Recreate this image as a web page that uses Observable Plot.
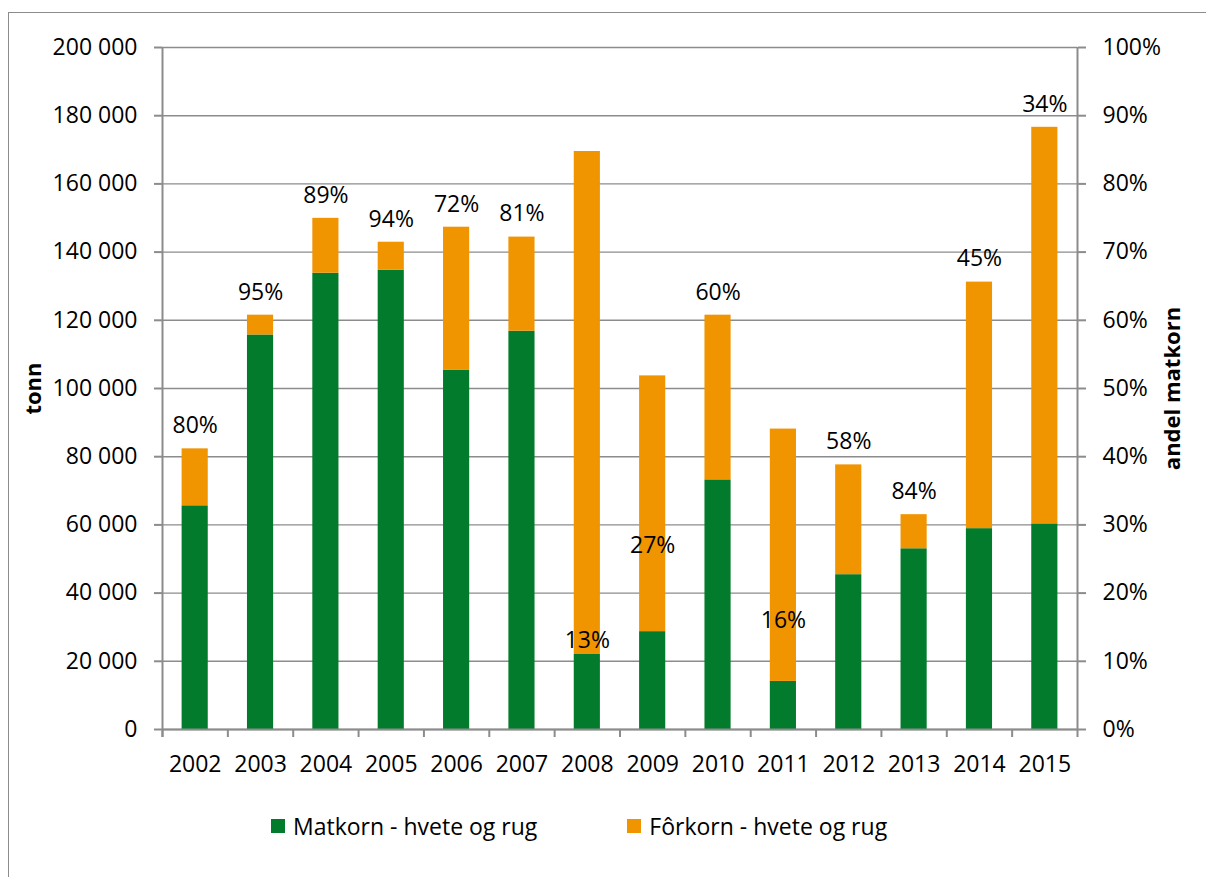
<!DOCTYPE html>
<html>
<head>
<meta charset="utf-8">
<script src="https://cdn.jsdelivr.net/npm/d3@7"></script>
<script src="https://cdn.jsdelivr.net/npm/@observablehq/plot@0.6"></script>
<style>
  html, body { margin: 0; padding: 0; background: #fff; overflow: hidden; }
  #wrap { position: relative; width: 1206px; height: 877px; font-family: "Open Sans", sans-serif; }
  #frame { position: absolute; left: 8px; top: 12px; width: 1400px; height: 1000px;
           border-top: 1.5px solid #8c8c8c; border-left: 1.5px solid #8c8c8c; }
  #chart { position: absolute; left: 0; top: 0; }
  #legend { position: absolute; top: 808px; left: 271px; height: 36px; display: flex; align-items: center;
            font-size: 23px; color: #000; white-space: nowrap; }
  .sw { width: 14px; height: 14px; display: inline-block; margin-right: 8px; }
  .item { display: flex; align-items: center; }
</style>
</head>
<body>
<div id="wrap">
  <div id="frame"></div>
  <div id="chart"></div>
  <div id="legend"></div>
</div>
<script>
// ---- data ----
const years = [2002, 2003, 2004, 2005, 2006, 2007, 2008, 2009, 2010, 2011, 2012, 2013, 2014, 2015];
const matkorn = [65600, 115700, 133800, 134700, 105400, 116800, 22000, 28700, 73200, 14100, 45400, 53000, 58900, 60300];
const forkorn = [16700, 5800, 16100, 8200, 41900, 27600, 147500, 75000, 48300, 74000, 32200, 10000, 72300, 116300];
const sharePct = [80, 95, 89, 94, 72, 81, 13, 27, 60, 16, 58, 84, 45, 34];
const labelAtShare = [2008, 2009, 2011];
const seriesNames = ["Matkorn - hvete og rug", "Fôrkorn - hvete og rug"];
const leftTicks = [0, 20000, 40000, 60000, 80000, 100000, 120000, 140000, 160000, 180000, 200000];
const shareTicks = [0, 10, 20, 30, 40, 50, 60, 70, 80, 90, 100];
const yTitle = "tonn";
const y2Title = "andel matkorn";

// ---- build tables ----
const yMax = 200000;
const rows = [];
years.forEach((yr, i) => {
  rows.push({year: yr, series: seriesNames[0], value: matkorn[i]});
  rows.push({year: yr, series: seriesNames[1], value: forkorn[i]});
});
const labels = years.map((yr, i) => ({
  year: yr,
  total: matkorn[i] + forkorn[i],
  share: sharePct[i],
  atShare: labelAtShare.includes(yr)
}));

const colors = ["#027B2C", "#F09400"];
const gray = "#8c8c8c";
const fmt = d => d3.format(",")(d).replace(/,/g, " ");

const base = {
  width: 1206,
  height: 790,
  marginLeft: 162,
  marginRight: 129,
  marginTop: 47,
  marginBottom: 61,
  x: {type: "band", domain: years, paddingInner: 0.6, paddingOuter: 0.3, round: false, axis: null},
  y: {domain: [0, yMax], axis: null},
  color: {domain: seriesNames, range: colors}
};

// probe the band step from the library's scale
let step;
try {
  const probe = Plot.plot({...base, marks: [Plot.barY(rows, {x: "year", y: "value"})]});
  step = probe.scale("x").step;
} catch (e) {}
if (!step) step = (base.width - base.marginLeft - base.marginRight) / years.length;

const chart = Plot.plot({
  ...base,
  style: {fontFamily: "'Open Sans', sans-serif", fontSize: "23px", color: "#000", background: "transparent", overflow: "visible"},
  marks: [
    Plot.ruleY(leftTicks, {stroke: gray, strokeWidth: 1.4}),
    Plot.barY(rows, Plot.stackY({x: "year", y: "value", fill: "series", order: seriesNames})),
    // axis lines
    Plot.ruleY([0], {stroke: gray, strokeWidth: 2}),
    Plot.ruleX([years[0]], {x: d => d, dx: -step / 2, y1: yMax, y2: 0, insetBottom: -8, stroke: gray, strokeWidth: 2}),
    Plot.ruleX([years[years.length - 1]], {x: d => d, dx: step / 2, y1: yMax, y2: 0, insetBottom: -8, stroke: gray, strokeWidth: 2}),
    // category boundary ticks
    Plot.ruleX(years, {x: d => d, dx: -step / 2, y1: 0, y2: 0, insetBottom: -8, stroke: gray, strokeWidth: 2}),
    // left axis
    Plot.axisY({anchor: "left", ticks: leftTicks, tickFormat: fmt, tickSize: 8, tickPadding: 17,
                stroke: gray, fill: "#000", strokeWidth: 2, label: null, fontSize: 23}),
    // right axis (share)
    Plot.axisY({anchor: "right", ticks: shareTicks.map(p => p / 100 * yMax),
                tickFormat: d => `${Math.round(d / yMax * 100)}%`, tickSize: 8, tickPadding: 17,
                stroke: gray, fill: "#000", strokeWidth: 2, label: null, fontSize: 23}),
    // x axis labels
    Plot.axisX({tickSize: 0, tickPadding: 26, label: null, fontSize: 23, fill: "#000", tickFormat: d => String(d)}),
    // axis titles
    Plot.text([yTitle], {frameAnchor: "left", textAnchor: "middle", dx: -129, rotate: -90, fontWeight: "bold", fontSize: 22, fill: "#000"}),
    Plot.text([y2Title], {frameAnchor: "right", textAnchor: "middle", dx: 95, rotate: -90, fontWeight: "bold", fontSize: 22, fill: "#000"}),
    // share labels
    Plot.text(labels.filter(d => !d.atShare), {x: "year", y: "total", text: d => `${d.share}%`, dy: -23, fontSize: 23, fill: "#000"}),
    Plot.text(labels.filter(d => d.atShare), {x: "year", y: d => d.share / 100 * yMax, text: d => `${d.share}%`, fontSize: 23, fill: "#000"})
  ]
});
document.getElementById("chart").appendChild(chart);

// legend
const legend = document.getElementById("legend");
seriesNames.forEach((name, i) => {
  const item = document.createElement("div");
  item.className = "item";
  if (i > 0) item.style.marginLeft = "90px";
  const sw = document.createElement("span");
  sw.className = "sw";
  sw.style.background = colors[i];
  const t = document.createElement("span");
  t.textContent = name;
  item.appendChild(sw);
  item.appendChild(t);
  legend.appendChild(item);
});
</script>
</body>
</html>
